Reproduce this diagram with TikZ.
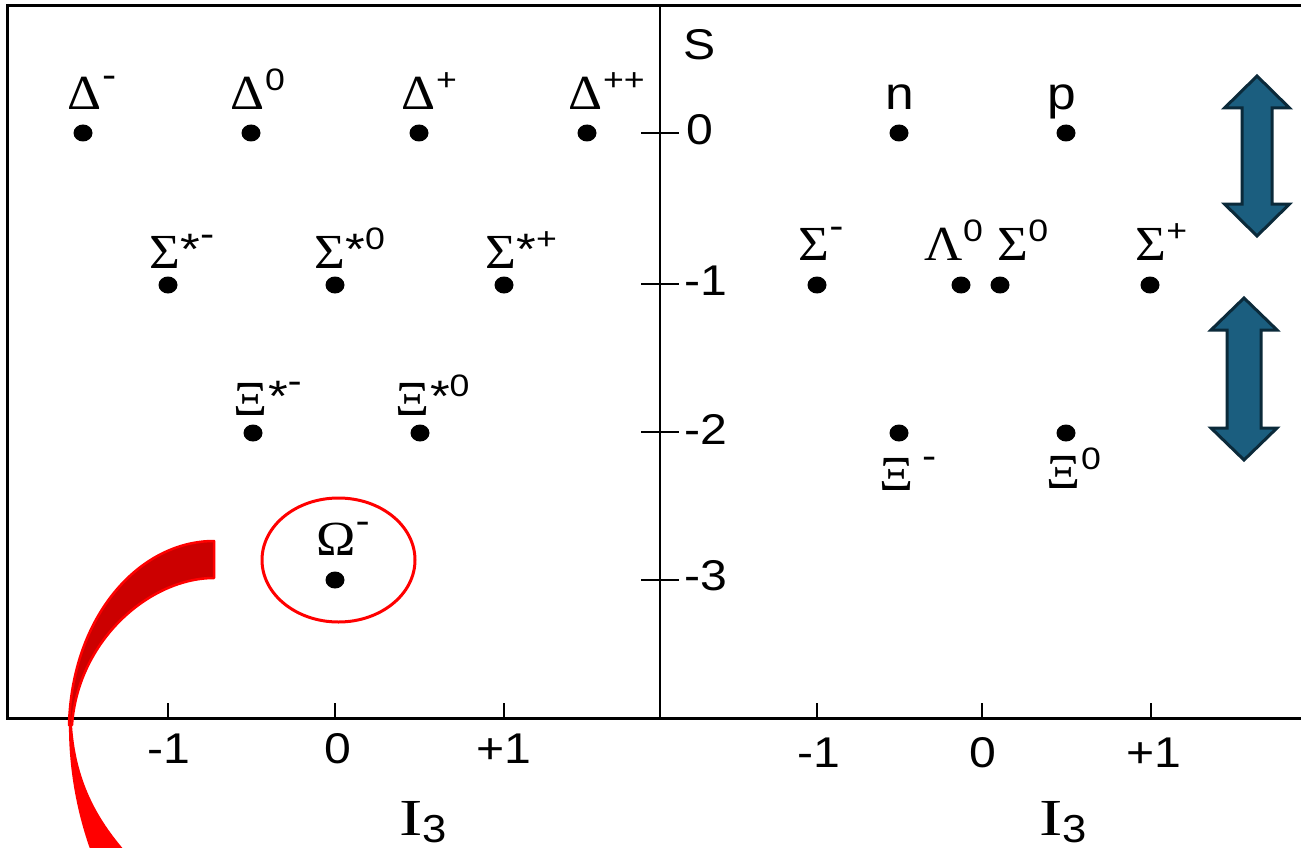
\documentclass[tikz,border=0pt]{standalone}
\usepackage{fontspec}
\usepackage{graphicx}
\setmainfont{Liberation Sans}
\newfontfamily\gkf{Liberation Serif}
\usetikzlibrary{shapes.geometric}
\definecolor{arrowfill}{HTML}{1B5E7F}
\definecolor{arrowedge}{HTML}{0B2A3A}
\definecolor{darkred}{HTML}{CC0000}
\newcommand\gsz{\fontsize{49}{50}\selectfont}
\newcommand\ssz{\fontsize{31}{32}\selectfont}
\newcommand\tsz{\fontsize{43}{45}\selectfont}
\newcommand\hy{\raisebox{3pt}{\fontsize{37}{37}\selectfont -}}
\newcommand\stt{\raisebox{-15pt}{\fontsize{44}{44}\selectfont *}}
\newcommand\gl[2]{\scalebox{1.08}[1]{\gkf\gsz #1}\rlap{\raisebox{19pt}{\scalebox{1.15}[1]{\ssz #2}}}}
\newcommand\sx[1]{\scalebox{1.12}[1]{#1}}
\newcommand\ithree{{\gkf\fontsize{52}{52}\selectfont\scalebox{1.35}[1]{I}}\raisebox{-7pt}{\scalebox{1.12}[1]{\fontsize{39}{39}\selectfont 3}}}
\begin{document}
\begin{tikzpicture}[x=1pt,y=-1pt,
  dot/.style={ellipse,fill=black,inner sep=0pt,minimum width=19pt,minimum height=17pt},
  lab/.style={inner sep=0pt,anchor=base},
  txt/.style={inner sep=0pt,anchor=base,font=\tsz},
  barrow/.style={fill=arrowfill,draw=arrowedge,line width=3pt,line join=miter},
  tick/.style={line width=1.4pt}]
\useasboundingbox (0,0) rectangle (1301,848);
\fill[white] (0,0) rectangle (1301,848);
% frame
\draw[line width=3pt] (1310,6) -- (7,6) -- (7,718) -- (1310,718);
\draw[line width=1.5pt] (660,6) -- (660,718);
% S ticks
\foreach \yy in {133,284,432,580} \draw[tick] (641,\yy) -- (679,\yy);
% I3 ticks
\foreach \xx in {168,335,504,817,982,1151} \draw[tick] (\xx,718) -- (\xx,703);
% axis labels
\node[txt] (S) at (700,60) {\sx{S}};
\node[txt,anchor=base west] (s0) at (686,145) {\sx{0}};
\node[txt,anchor=base west] (s1) at (684,295) {\sx{-1}};
\node[txt,anchor=base west] (s2) at (684,444) {\sx{-2}};
\node[txt,anchor=base west] (s3) at (684,590) {\sx{-3}};
\node[txt] (la) at (168.5,763) {\sx{-1}};
\node[txt] (lb) at (338,763) {\sx{0}};
\node[txt] (lc) at (504,763) {\sx{+1}};
\node[txt] (ra) at (818.5,767) {\sx{-1}};
\node[txt] (rb) at (982.5,767) {\sx{0}};
\node[txt] (rc) at (1153.5,767) {\sx{+1}};
\node[inner sep=0pt,anchor=base west] (il) at (399,835) {\ithree};
\node[inner sep=0pt,anchor=base west] (ir) at (1039,835) {\ithree};
% decuplet dots
\node[dot] (dm) at (83,133) {};
\node[dot] (d0) at (251,133) {};
\node[dot] (dp) at (419,133) {};
\node[dot] (dpp) at (587,133) {};
\node[dot] (ssm) at (168,285) {};
\node[dot] (ss0) at (335,285) {};
\node[dot] (ssp) at (504,285) {};
\node[dot] (xsm) at (253,433) {};
\node[dot] (xs0) at (420,433) {};
\node[dot] (om) at (335,580) {};
% decuplet labels
\node[lab] (ldm) at (85,110) {\gl{Δ}{\hy}};
\node[lab] (ld0) at (248,110) {\gl{Δ}{0}};
\node[lab] (ldp) at (419,110) {\gl{Δ}{+}};
\node[lab] (ldpp) at (586,110) {\gl{Δ}{++}};
\node[lab] (lssm) at (165,268) {\gl{Σ}{\stt\hy}};
\node[lab] (lss0) at (330,268) {\gl{Σ}{\stt 0}};
\node[lab] (lssp) at (501,268) {\gl{Σ}{\stt +}};
\node[lab] (lxsm) at (251,415) {\gl{Ξ}{\stt\hy}};
\node[lab] (lxs0) at (413,415) {\gl{Ξ}{\stt 0}};
\node[lab] (lom) at (336,555) {\gl{Ω}{\hy}};
% octet dots
\node[dot] (n) at (899,133) {};
\node[dot] (p) at (1066,133) {};
\node[dot] (sm) at (817,285) {};
\node[dot] (l0) at (961,285) {};
\node[dot] (s0d) at (1000,285) {};
\node[dot] (sp) at (1150,285) {};
\node[dot] (xm) at (899,433) {};
\node[dot] (x0) at (1066,433) {};
% octet labels
\node[lab,font=\fontsize{46}{48}\selectfont] (ln) at (900,110) {\sx{n}};
\node[lab,font=\fontsize{46}{48}\selectfont] (lp) at (1062,110) {\sx{p}};
\node[lab] (lsm) at (814,260) {\gl{Σ}{\hy}};
\node[lab] (ll0) at (944,260) {\gl{Λ}{0}};
\node[lab] (ls0) at (1013,260) {\gl{Σ}{0}};
\node[lab] (lsp) at (1151,260) {\gl{Σ}{+}};
\node[lab] (lxm) at (897,490) {\gl{Ξ}{\hspace{7pt}\hy}};
\node[lab] (lx0) at (1064,488) {\gl{Ξ}{0}};
% red circle around Omega
\node[draw=red,line width=3pt,ellipse,minimum width=153pt,minimum height=124pt,inner sep=0pt] (omc) at (338.5,560) {};
% blue double arrows
\draw[barrow] (1257,76) -- (1289.5,108) -- (1272,108) -- (1272,204) -- (1289.5,204) -- (1257,236) -- (1224.5,204) -- (1242,204) -- (1242,108) -- (1224.5,108) -- cycle;
\draw[barrow] (1244,298) -- (1277,330) -- (1261,330) -- (1261,428) -- (1277,428) -- (1244,460) -- (1211,428) -- (1227,428) -- (1227,330) -- (1211,330) -- cycle;
% red curved arrow
\begin{scope}
\clip (0,0) rectangle (1301,848);
\fill[red] (69,720) .. controls (68,775) and (80,825) .. (95,862) -- (135,862) .. controls (100,825) and (76,785) .. (72,725) -- cycle;
\draw[fill=darkred,draw=red,line width=2.5pt,line join=round] (214,541) .. controls (140,541) and (72,615) .. (69,725) -- (72,725) .. controls (78,640) and (150,578) .. (214,578) -- cycle;
\end{scope}
\end{tikzpicture}
\end{document}
